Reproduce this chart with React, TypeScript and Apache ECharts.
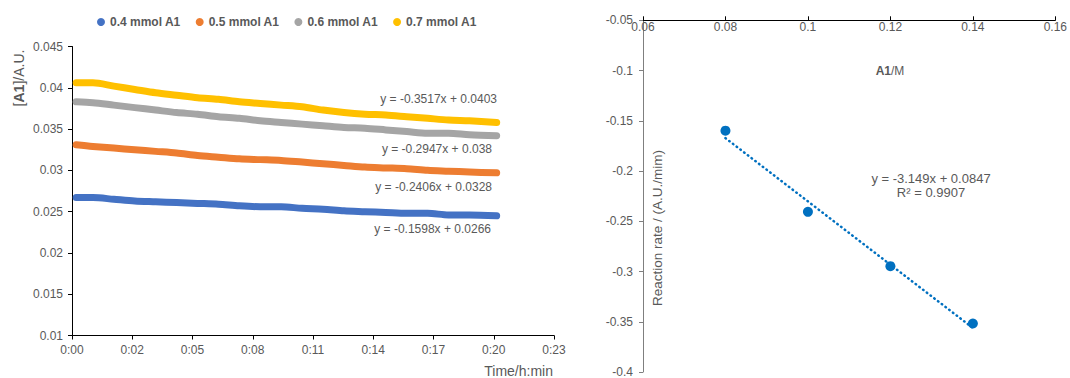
import React, { useEffect, useRef } from "react";
import * as echarts from "echarts";

// time in minutes
const times = [0.2, 1, 2, 3, 4, 5, 6, 7, 8, 9, 10, 11, 12, 13, 14, 15, 16, 17, 18, 19, 20.3];
const seriesNames = ["0.4 mmol A1", "0.5 mmol A1", "0.6 mmol A1", "0.7 mmol A1"];
const blueVals = [0.0267, 0.0267, 0.0265, 0.0263, 0.0262, 0.0261, 0.026, 0.0259, 0.0257, 0.0256, 0.0256, 0.0254, 0.0253, 0.0251, 0.025, 0.0249, 0.0248, 0.0248, 0.0246, 0.0246, 0.0245];
const orangeVals = [0.0331, 0.0329, 0.0327, 0.0325, 0.0323, 0.0321, 0.0318, 0.0316, 0.0314, 0.0313, 0.0312, 0.031, 0.0308, 0.0306, 0.0304, 0.0303, 0.0302, 0.03, 0.0299, 0.0298, 0.0297];
const grayVals = [0.0383, 0.0382, 0.0379, 0.0376, 0.0373, 0.037, 0.0368, 0.0365, 0.0363, 0.036, 0.0358, 0.0356, 0.0354, 0.0352, 0.0351, 0.0349, 0.0347, 0.0345, 0.0345, 0.0343, 0.0342];
const yellowVals = [0.0406, 0.0406, 0.0402, 0.0398, 0.0394, 0.0391, 0.0388, 0.0386, 0.0383, 0.0381, 0.0379, 0.0377, 0.0373, 0.037, 0.0368, 0.0367, 0.0365, 0.0363, 0.0361, 0.036, 0.0358];
const equations = ["y = -0.1598x + 0.0266", "y = -0.2406x + 0.0328", "y = -0.2947x + 0.038", "y = -0.3517x + 0.0403"];

// right chart
const concentrations = [0.08, 0.1, 0.12, 0.14];
const rates = [-0.1598, -0.2406, -0.2947, -0.3517];
const fitSlope = -3.149;
const fitIntercept = 0.0847;

const colors = ["#4472C4", "#ED7D31", "#A5A5A5", "#FFC000"];
const TXT = "#595959";
const FONT = "'Liberation Sans', Arial, sans-serif";

export default function App() {
  const ref = useRef<HTMLDivElement>(null);
  useEffect(() => {
    if (!ref.current) return;
    const chart = echarts.init(ref.current, undefined, { renderer: "svg" });
    const valueSets = [blueVals, orangeVals, grayVals, yellowVals];
    const fitX = [concentrations[0], concentrations[concentrations.length - 1]];
    const option: any = {
      animation: false,
      textStyle: { fontFamily: FONT },
      legend: {
        data: seriesNames,
        left: 92,
        top: 11,
        icon: "circle",
        itemWidth: 8,
        itemHeight: 8,
        itemGap: 15,
        textStyle: { color: TXT, fontSize: 12, fontWeight: "bold", fontFamily: FONT },
      },
      grid: [
        { left: 72, top: 46.5, width: 482, height: 289 },
        { left: 643, top: 20.3, width: 413, height: 355.4 },
      ],
      xAxis: [
        {
          gridIndex: 0,
          type: "value",
          min: 0,
          max: 0.016,
          interval: 0.002,
          axisLine: { show: true, lineStyle: { color: "#000", width: 1 } },
          axisTick: { show: true, length: 4, lineStyle: { color: "#000" } },
          splitLine: { show: false },
          axisLabel: {
            color: TXT,
            fontSize: 12,
            margin: 8,
            formatter: (v: number) => {
              const m = Math.floor(v * 1440 + 1e-6);
              const h = Math.floor(m / 60);
              const mm = m % 60;
              return h + ":" + (mm < 10 ? "0" : "") + mm;
            },
          },
        },
        {
          gridIndex: 1,
          type: "value",
          position: "top",
          min: 0.06,
          max: 0.16,
          interval: 0.02,
          axisLine: { show: true, onZero: false, lineStyle: { color: "#000", width: 1 } },
          axisTick: { show: true, length: 4, lineStyle: { color: "#000" } },
          splitLine: { show: false },
          axisLabel: { inside: true, margin: 1, color: TXT, fontSize: 12, verticalAlign: "top" },
        },
      ],
      yAxis: [
        {
          gridIndex: 0,
          type: "value",
          min: 0.01,
          max: 0.045,
          interval: 0.005,
          axisLine: { show: true, lineStyle: { color: "#000", width: 1 } },
          axisTick: { show: true, length: 4, lineStyle: { color: "#000" } },
          splitLine: { show: false },
          axisLabel: { color: TXT, fontSize: 12, margin: 9 },
        },
        {
          gridIndex: 1,
          type: "value",
          min: -0.4,
          max: -0.05,
          interval: 0.05,
          axisLine: { show: true, onZero: false, lineStyle: { color: "#7f7f7f", width: 1 } },
          axisTick: { show: true, length: 4, lineStyle: { color: "#7f7f7f" } },
          splitLine: { show: false },
          axisLabel: { color: TXT, fontSize: 12, margin: 10 },
        },
      ],
      series: [
        ...seriesNames.map((name, k) => ({
          name,
          type: "line",
          xAxisIndex: 0,
          yAxisIndex: 0,
          data: times.map((t, i) => [t / 1440, valueSets[k][i]]),
          showSymbol: false,
          symbol: "circle",
          smooth: 0.3,
          color: colors[k],
          lineStyle: { width: 7, color: colors[k], cap: "round", join: "round" },
          emphasis: { disabled: true },
          silent: true,
        })),
        {
          name: "trend",
          type: "line",
          xAxisIndex: 1,
          yAxisIndex: 1,
          data: fitX.map((x) => [x, fitSlope * x + fitIntercept]),
          showSymbol: false,
          lineStyle: { width: 2.5, color: "#0070C0", type: [0.5, 4.2], cap: "round" },
          emphasis: { disabled: true },
          silent: true,
        },
        {
          name: "rate",
          type: "scatter",
          xAxisIndex: 1,
          yAxisIndex: 1,
          data: concentrations.map((c, i) => [c, rates[i]]),
          symbolSize: 10,
          itemStyle: { color: "#0070C0", opacity: 1 },
          emphasis: { disabled: true },
          silent: true,
        },
      ],
      graphic: [
        {
          type: "text",
          x: 19,
          y: 78,
          rotation: Math.PI / 2,
          style: {
            text: "[{b|A1}]/A.U.",
            fill: TXT,
            fontSize: 14,
            fontFamily: FONT,
            align: "center",
            verticalAlign: "middle",
            rich: { b: { fontWeight: "bold", fontSize: 14, fill: TXT, fontFamily: FONT } },
          },
        },
        {
          type: "text",
          x: 553,
          y: 371,
          style: { text: "Time/h:min", fill: TXT, fontSize: 14, fontFamily: FONT, align: "right", verticalAlign: "middle" },
        },
        ...[
          { x: 491, y: 229 },
          { x: 492, y: 187 },
          { x: 492, y: 149 },
          { x: 497, y: 99 },
        ].map((p, i) => ({
          type: "text",
          x: p.x,
          y: p.y,
          style: { text: equations[i], fill: TXT, fontSize: 12, fontFamily: FONT, align: "right", verticalAlign: "middle" },
        })),
        {
          type: "text",
          x: 890,
          y: 71,
          style: {
            text: "{b|A1}/M",
            fill: TXT,
            fontSize: 12,
            fontFamily: FONT,
            align: "center",
            verticalAlign: "middle",
            rich: { b: { fontWeight: "bold", fontSize: 12, fill: TXT, fontFamily: FONT } },
          },
        },
        {
          type: "text",
          x: 657,
          y: 228,
          rotation: Math.PI / 2,
          style: { text: "Reaction rate / (A.U./mim)", fill: TXT, fontSize: 13.5, fontFamily: FONT, align: "center", verticalAlign: "middle" },
        },
        {
          type: "text",
          x: 931,
          y: 178,
          style: { text: "y = -3.149x + 0.0847", fill: TXT, fontSize: 13, fontFamily: FONT, align: "center", verticalAlign: "middle" },
        },
        {
          type: "text",
          x: 931,
          y: 192,
          style: { text: "R² = 0.9907", fill: TXT, fontSize: 13, fontFamily: FONT, align: "center", verticalAlign: "middle" },
        },
      ],
    };
    chart.setOption(option);
    return () => chart.dispose();
  }, []);
  return (
    <div
      ref={ref}
      style={{ position: "fixed", left: 0, top: 0, width: 1070, height: 378, background: "#fff" }}
    />
  );
}
